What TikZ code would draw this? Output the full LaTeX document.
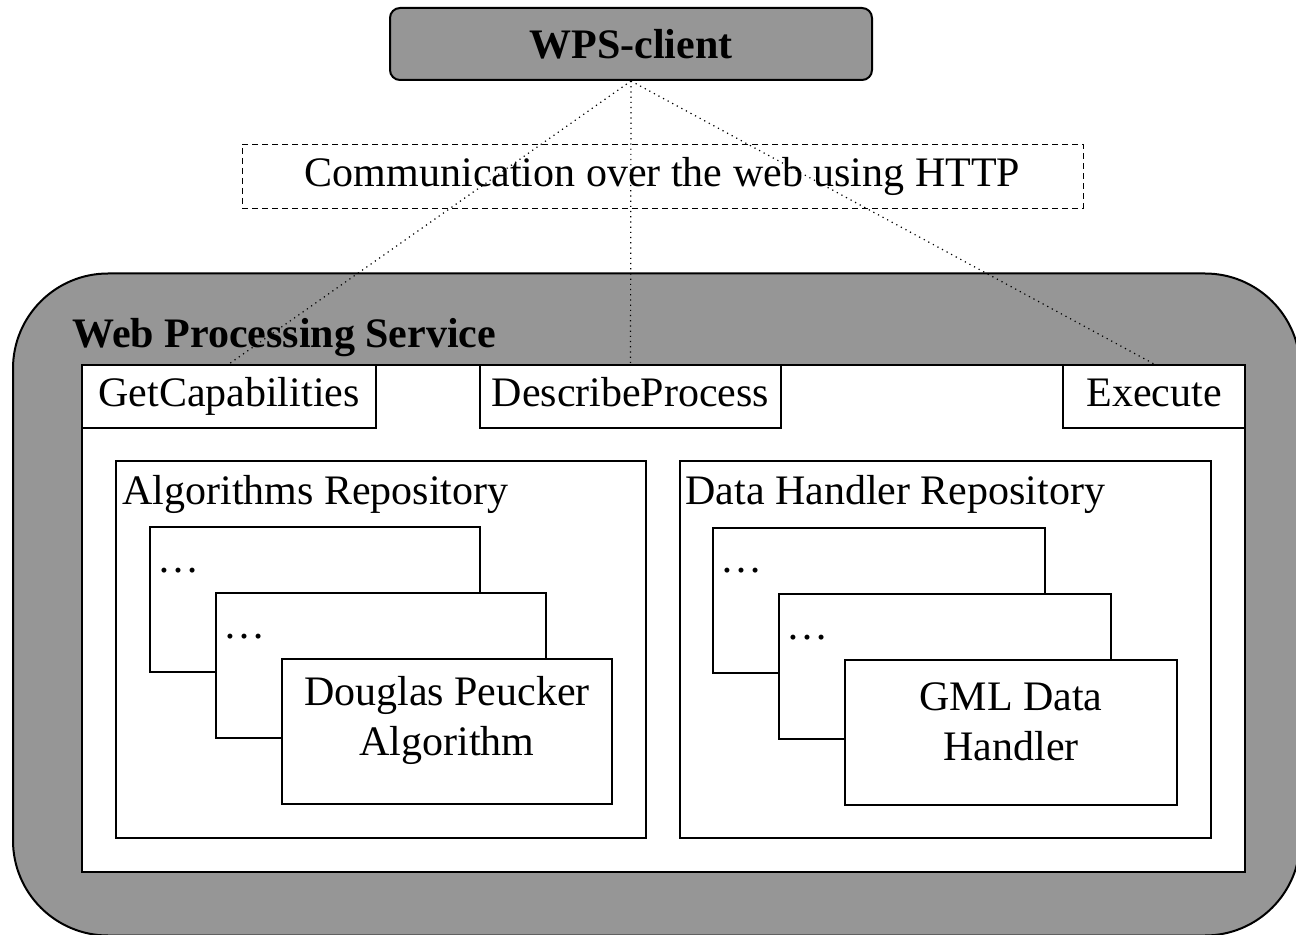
\documentclass[tikz,border=0pt]{standalone}
\usepackage{fontspec}
\setmainfont{Liberation Serif}
\usetikzlibrary{positioning}
\definecolor{wpsgray}{RGB}{150,150,150}

\begin{document}
\begin{tikzpicture}[x=0.5pt, y=-0.5pt
        , every node/.style={ font=\fontsize{21}{25}\selectfont, inner sep=0pt }
        , box/.style={ draw, line width=1pt, fill=white }
        , tab/.style={ box, minimum height=31.5pt, text height=15pt, text depth=4.5pt }
        , link/.style={ dotted, line width=0.6pt }
        ]
    \useasboundingbox (0,0) rectangle (1296,935);

    % the client on top
    \node[draw, line width=1pt, fill=wpsgray, rounded corners=5pt
        , minimum width=241pt, minimum height=36pt
        , font=\fontsize{21}{25}\selectfont\bfseries] (client) at (631,44) {WPS-client};

    \node[draw, densely dashed, thin, minimum width=420.5pt, minimum height=32pt] (http)
        at (662.5,176) {Communication over the web using HTTP};

    % the service itself
    \node[draw, line width=1pt, fill=wpsgray, rounded corners=47.5pt
        , minimum width=643.5pt, minimum height=331pt] (wps) at (656.5,604.5) {};
    \node[anchor=base west, font=\fontsize{21}{25}\selectfont\bfseries] (wpstitle)
        at (72,348) {Web Processing Service};

    \node[box, minimum width=581.5pt, minimum height=253.5pt] (core) at (663.5,618.5) {};

    \node[tab, minimum width=147pt] (getcap) at (229,396.5) {GetCapabilities};
    \node[tab, minimum width=150.5pt] (describe) at (630.5,396.5) {DescribeProcess};
    \node[tab, minimum width=91pt] (execute) at (1154,396.5) {Execute};

    % repositories
    \node[box, minimum width=265pt, minimum height=188.5pt] (algrepo) at (381,649.5) {};
    \node[anchor=base west] (algtitle) at (122,505) {Algorithms Repository};
    \node[box, minimum width=265.5pt, minimum height=188.5pt] (datarepo) at (945.5,649.5) {};
    \node[anchor=base west] (datatitle) at (685,505) {Data Handler Repository};

    \foreach \i in {0,1,2} {
        \node[box, minimum width=165pt, minimum height=72.5pt] (alg\i) at (315+66*\i,599.5+66*\i) {};
        \node[box, minimum width=166pt, minimum height=72.5pt] (data\i) at (879+66*\i,600.5+66*\i) {};
    }
    \foreach \i in {0,1} {
        \node[anchor=base west] (algdots\i) at ([xshift=4pt,yshift=-23pt]alg\i.north west) {…};
        \node[anchor=base west] (datadots\i) at ([xshift=4pt,yshift=-23pt]data\i.north west) {…};
    }
    \node[align=center] (douglas) at ([yshift=5.5pt]alg2.center) {Douglas Peucker\\Algorithm};
    \node[align=center] (gml) at ([yshift=5.5pt]data2.center) {GML Data\\Handler};

    % requests from the client
    \draw[link] (client.south) -- (getcap.north);
    \draw[link] (client.south) -- (describe.north);
    \draw[link] (client.south) -- (execute.north);

\end{tikzpicture}
\end{document}
